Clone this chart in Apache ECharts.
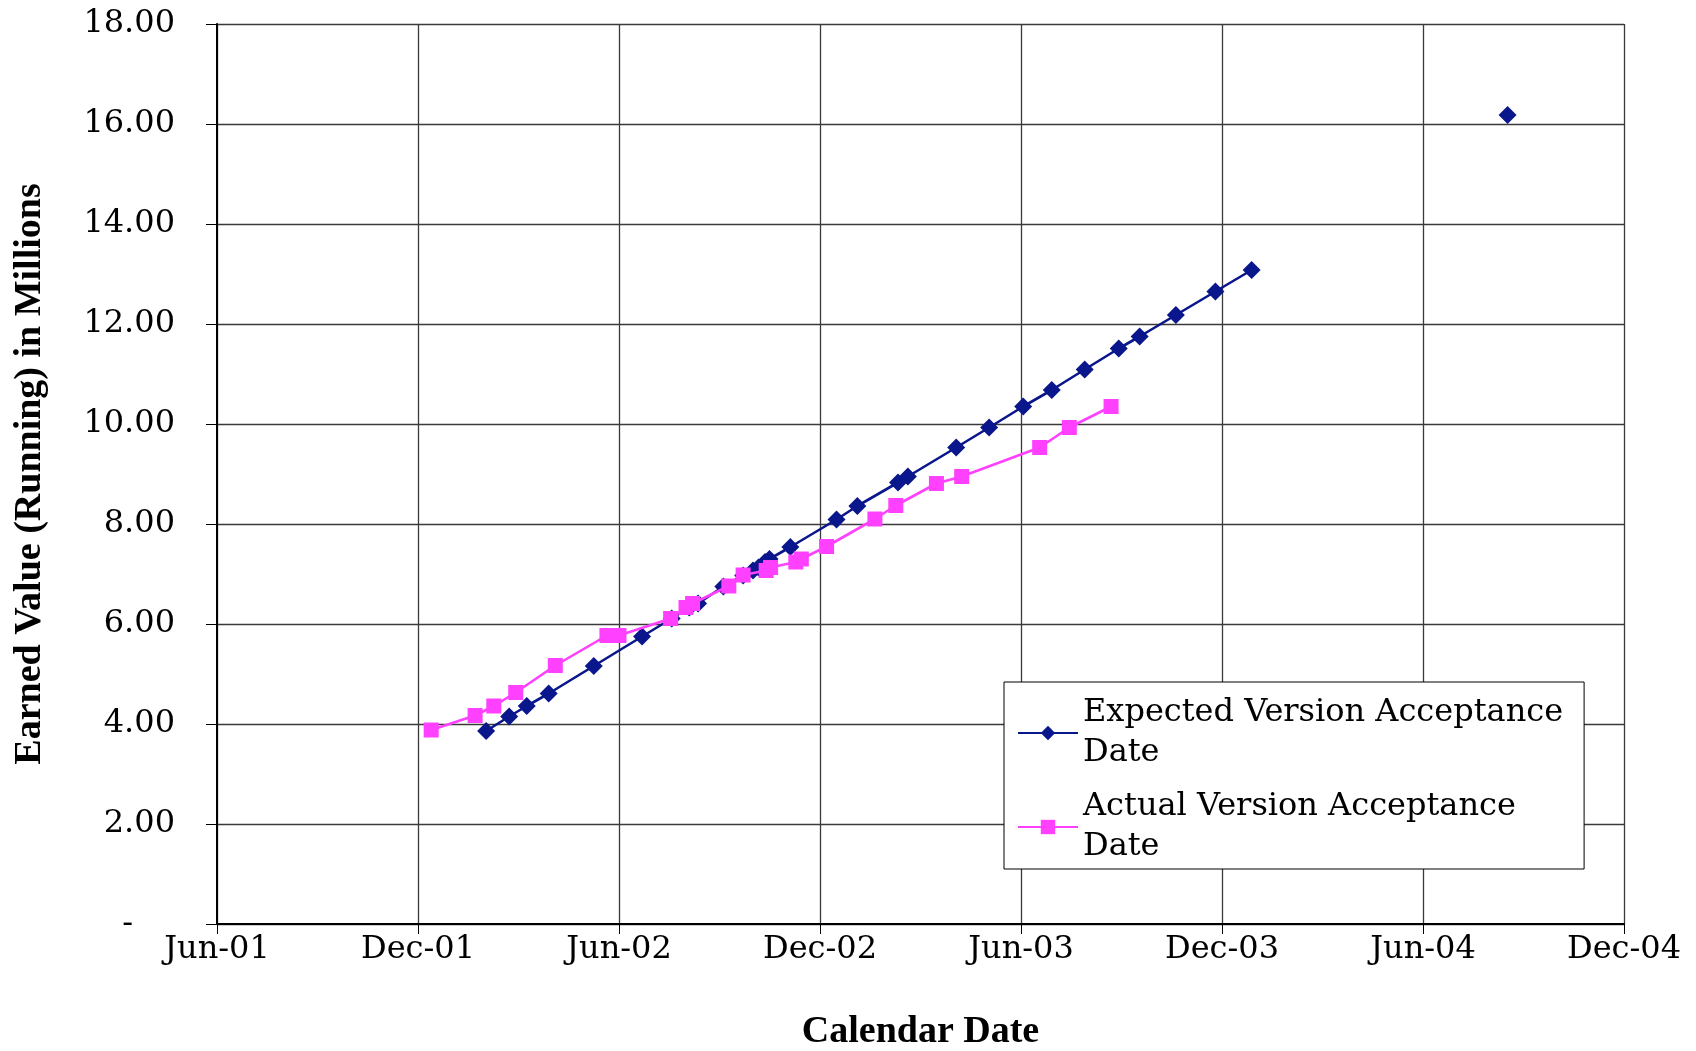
<!DOCTYPE html>
<html><head><meta charset="utf-8">
<script src="https://cdn.jsdelivr.net/npm/echarts@6/dist/echarts.min.js"></script>
<style>html,body{margin:0;padding:0;background:#fff}#c{width:1696px;height:1051px}</style>
</head><body><div id="c"></div>
<script>
const expectedDates = ['2002-02-01','2002-02-22','2002-03-10','2002-03-30','2002-05-10','2002-06-23','2002-07-20','2002-08-05','2002-08-13','2002-09-05','2002-09-23','2002-10-02','2002-10-07','2002-10-13','2002-10-17','2002-11-05','2002-12-17','2003-01-05','2003-02-11','2003-02-20','2003-04-05','2003-05-05','2003-06-05','2003-07-01','2003-07-31','2003-08-31','2003-09-19','2003-10-22','2003-11-27','2003-12-30'];
const expectedValues = [3.86,4.15,4.36,4.61,5.16,5.75,6.11,6.33,6.41,6.75,6.97,7.07,7.13,7.24,7.30,7.54,8.09,8.36,8.83,8.95,9.53,9.93,10.35,10.68,11.09,11.51,11.75,12.18,12.65,13.08];
const expectedLateDates = ['2004-08-19'];
const expectedLateValues = [16.18];
const actualDates = ['2001-12-13','2002-01-22','2002-02-08','2002-02-28','2002-04-05','2002-05-22','2002-06-02','2002-07-19','2002-08-02','2002-08-08','2002-09-10','2002-09-23','2002-10-14','2002-10-18','2002-11-10','2002-11-15','2002-12-08','2003-01-21','2003-02-09','2003-03-18','2003-04-10','2003-06-20','2003-07-17','2003-08-24'];
const actualValues = [3.88,4.17,4.36,4.63,5.17,5.77,5.77,6.11,6.33,6.41,6.76,6.98,7.07,7.13,7.24,7.30,7.55,8.10,8.37,8.81,8.95,9.53,9.93,10.35];
const xTickLabels = ['Jun-01','Dec-01','Jun-02','Dec-02','Jun-03','Dec-03','Jun-04','Dec-04'];
const yTickLabels = ['-','2.00','4.00','6.00','8.00','10.00','12.00','14.00','16.00','18.00'];
const seriesNames = ['Expected Version Acceptance\nDate','Actual Version Acceptance\nDate'];

const ORIGIN = Date.UTC(2001, 5, 1);
const TICK_DAYS = 183;
function dayOffset(s) {
  const p = s.split('-').map(Number);
  return (Date.UTC(p[0], p[1] - 1, p[2]) - ORIGIN) / 86400000;
}
function pairs(dates, vals) { return dates.map((d, i) => [dayOffset(d), vals[i]]); }

const serif = 'DejaVu Serif';
const titleFont = 'Liberation Serif';
const blue = '#0a168c';
const pink = '#ff40ff';
const gridColor = '#3a3a3a';

const chart = echarts.init(document.getElementById('c'), null, {renderer: 'canvas'});
chart.setOption({
  animation: false,
  backgroundColor: '#fff',
  grid: {left: 217, right: 72, top: 24, bottom: 127, containLabel: false, outerBoundsMode: 'none'},
  xAxis: {
    type: 'value', min: 0, max: TICK_DAYS * (xTickLabels.length - 1), interval: TICK_DAYS,
    name: 'Calendar Date', nameLocation: 'middle', nameGap: 89,
    nameTextStyle: {fontFamily: titleFont, fontWeight: 'bold', fontSize: 38, color: '#000'},
    axisLine: {show: true, onZero: false, lineStyle: {color: '#000', width: 2}},
    axisTick: {show: true, length: 10, lineStyle: {color: '#000', width: 1}},
    axisLabel: {margin: 10, fontFamily: serif, fontSize: 32, color: '#000',
      formatter: v => xTickLabels[Math.round(v / TICK_DAYS)]},
    splitLine: {show: true, lineStyle: {color: gridColor, width: 1.3}}
  },
  yAxis: {
    type: 'value', min: 0, max: 18, interval: 2,
    name: 'Earned Value (Running) in Millions', nameLocation: 'middle', nameGap: 168,
    nameTextStyle: {fontFamily: titleFont, fontWeight: 'bold', fontSize: 38, color: '#000'},
    axisLine: {show: true, lineStyle: {color: '#000', width: 2}},
    axisTick: {show: true, length: 11, lineStyle: {color: '#000', width: 1}},
    axisLabel: {margin: 42, fontFamily: serif, fontSize: 32, color: '#000',
      formatter: v => { const t = yTickLabels[Math.round(v / 2)]; return t === '-' ? '{d|-}' : t; },
      rich: {d: {fontFamily: serif, fontSize: 32, color: '#000', padding: [0, 42, 0, 0]}}},
    splitLine: {show: true, lineStyle: {color: gridColor, width: 1.3}}
  },
  legend: {
    orient: 'vertical', left: 1004, top: 682,
    padding: [15, 21, 6, 13],
    itemWidth: 60, itemHeight: 18, itemGap: 22,
    borderColor: '#000', borderWidth: 1, backgroundColor: '#fff',
    textStyle: {fontFamily: serif, fontSize: 32, lineHeight: 40, height: 40, color: '#000'},
    data: seriesNames
  },
  series: [
    {name: seriesNames[0], type: 'line', data: pairs(expectedDates, expectedValues),
     symbol: 'diamond', symbolSize: 18, color: blue,
     itemStyle: {color: blue}, lineStyle: {color: blue, width: 2.6}, z: 3},
    {name: seriesNames[1], type: 'line', data: pairs(actualDates, actualValues),
     symbol: 'rect', symbolSize: 15, color: pink,
     itemStyle: {color: pink}, lineStyle: {color: pink, width: 2.6}, z: 4},
    {name: seriesNames[0], type: 'line', data: pairs(expectedLateDates, expectedLateValues),
     symbol: 'diamond', symbolSize: 18, showSymbol: true, color: blue,
     itemStyle: {color: blue}, lineStyle: {color: blue, width: 2.6}, z: 3}
  ]
});
</script></body></html>
